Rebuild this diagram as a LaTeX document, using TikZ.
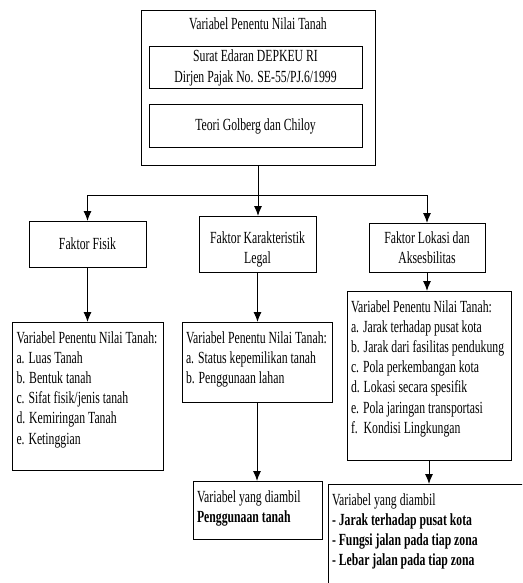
\documentclass[tikz,border=0pt]{standalone}
\usepackage{fontspec}
\setmainfont{Liberation Serif}[FakeStretch=0.69]
\usetikzlibrary{arrows.meta}
\newcommand{\isikotak}[3]{\parbox[c][#1][t]{#2}{\raggedright\rule{0pt}{21pt}#3}}

\begin{document}
\begin{tikzpicture}[x=1pt,y=-1pt,line width=1pt,
        every node/.style={font=\fontsize{17}{20.2}\selectfont,outer sep=0pt},
        kotak/.style={draw,align=center,inner sep=0pt},
        daftar/.style={draw,anchor=north west,inner xsep=4pt,inner ysep=0pt},
        panah/.style={-{Latex[length=10pt,width=8pt]}}]
        \path[use as bounding box,clip] (0,0) rectangle (522,583);
        % sumber teori
        \node (sumber) at (141,11) [draw,anchor=north west,minimum width=234pt,minimum height=154pt] {};
        \node (judul) at (258,30) [anchor=base] {Variabel Penentu Nilai Tanah};
        \node (surat) at (255.5,68) [kotak,minimum width=213pt,minimum height=42pt] {Surat Edaran DEPKEU RI\\Dirjen Pajak No. SE-55/PJ.6/1999};
        \node (teori) at (255.5,126) [kotak,minimum width=213pt,minimum height=42pt] {Teori Golberg dan Chiloy};
        % faktor
        \node (fisik) at (87.5,244) [kotak,minimum width=117pt,minimum height=46pt] {Faktor Fisik};
        \node (karakter) at (257.5,244) [kotak,minimum width=117pt,minimum height=56pt] {\rule{0pt}{22pt}Faktor Karakteristik\\Legal};
        \node (lokasi) at (427,247.5) [kotak,minimum width=116pt,minimum height=49pt] {Faktor Lokasi dan\\Aksesbilitas};
        % variabel
        \node (fisikvar) at (12.5,322) [daftar] {\isikotak{148pt}{142.5pt}{Variabel Penentu Nilai Tanah:\\a. Luas Tanah\\b. Bentuk tanah\\c. Sifat fisik/jenis tanah\\d. Kemiringan Tanah\\e. Ketinggian}};
        \node (karaktervar) at (182,322) [daftar] {\isikotak{80pt}{142pt}{Variabel Penentu Nilai Tanah:\\a. Status kepemilikan tanah\\b. Penggunaan lahan}};
        \node (lokasivar) at (347,291) [daftar] {\isikotak{169pt}{156pt}{Variabel Penentu Nilai Tanah:\\a. Jarak terhadap pusat kota\\b. Jarak dari fasilitas pendukung\\c. Pola perkembangan kota\\d. Lokasi secara spesifik\\e. Pola jaringan transportasi\\f.\ \ Kondisi Lingkungan}};
        % variabel yang diambil
        \node (karakterambil) at (193,481) [daftar] {\isikotak{58pt}{121pt}{Variabel yang diambil\\\textbf{Penggunaan tanah}}};
        \node (lokasiambil) at (328,484) [daftar] {\isikotak{130pt}{210pt}{Variabel yang diambil\\\textbf{- Jarak terhadap pusat kota}\\\textbf{- Fungsi jalan pada tiap zona}\\\textbf{- Lebar jalan pada tiap zona}}};
        % panah
        \coordinate (cabang) at (258,195);
        \draw (sumber.south) -- (cabang);
        \draw[panah] (cabang) -| (fisik.north);
        \draw[panah] (cabang) -- (cabang |- karakter.north);
        \draw[panah] (cabang) -| (lokasi.north);
        \draw[panah] (fisik.south) -- (fisik.south |- fisikvar.north);
        \draw[panah] (karakter.south) -- (karakter.south |- karaktervar.north);
        \draw[panah] (lokasi.south) -- (lokasi.south |- lokasivar.north);
        \draw[panah] (karaktervar.south) -- (karaktervar.south |- karakterambil.north);
        \draw[panah] (lokasivar.south) -- (lokasivar.south |- lokasiambil.north);
\end{tikzpicture}
\end{document}
